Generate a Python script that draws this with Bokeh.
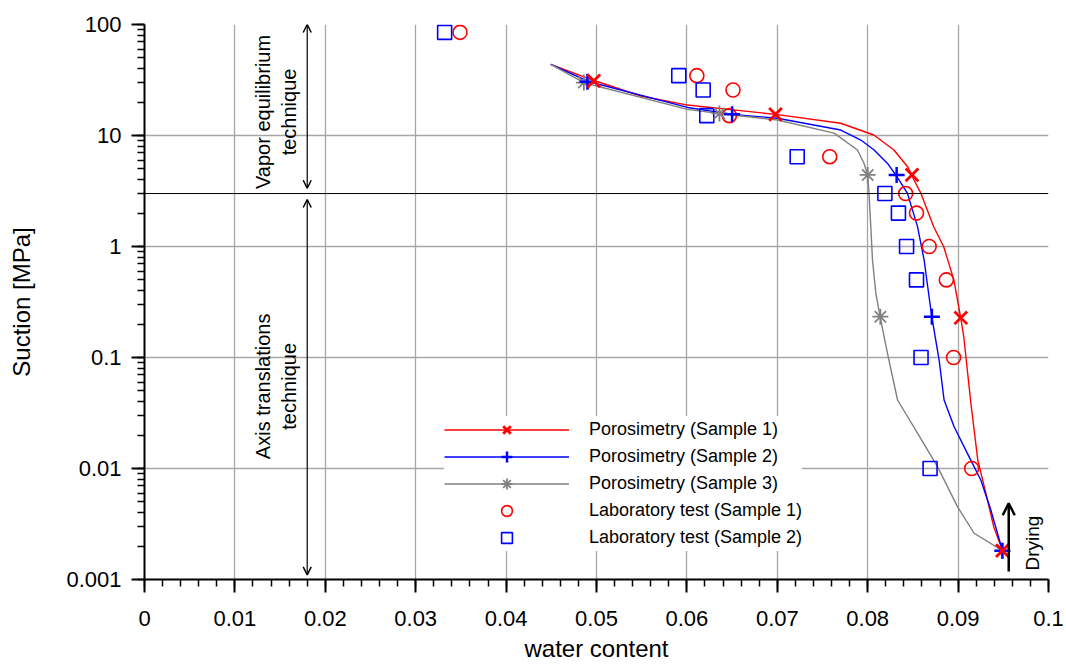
import math
from bokeh.plotting import figure
from bokeh.models import (Range1d, Span, Arrow, OpenHead, Legend, LegendItem,
                          SingleIntervalTicker, LogTicker, CustomJSTickFormatter,
                          ColumnDataSource)
from bokeh.core.properties import value
from bokeh.embed import file_html
from bokeh.resources import INLINE

FONT = "Liberation Sans"

# ---------------- data ----------------
# Porosimetry curves
por1_x = [0.04494, 0.04956, 0.0549, 0.06007, 0.06983, 0.07702, 0.08067, 0.0829, 0.08444, 0.08485,
          0.08587, 0.08731, 0.08842, 0.08953, 0.0903, 0.09063, 0.09141, 0.09218, 0.09307, 0.09395, 0.09491]
por1_y = [43.8, 31.6, 22.7, 18.8, 15.5, 12.9, 10.1, 7.4, 5.2, 4.41,
          3.03, 1.50, 0.99, 0.50, 0.225, 0.153, 0.0389, 0.0119, 0.00601, 0.00297, 0.00182]

por2_x = [0.04494, 0.04918, 0.06007, 0.06504, 0.07002, 0.07702, 0.07924, 0.08071, 0.08219, 0.08311,
          0.0844, 0.08551, 0.08624, 0.08709, 0.0879, 0.08845, 0.08956, 0.09104, 0.09251, 0.09362, 0.09491]
por2_y = [43.8, 30.5, 17.9, 15.5, 14.3, 11.2, 9.1, 7.4, 5.6, 4.41,
          3.01, 1.51, 0.756, 0.233, 0.0949, 0.0414, 0.0238, 0.0136, 0.00787, 0.00423, 0.00182]

por3_x = [0.04494, 0.0486, 0.06007, 0.06356, 0.07002, 0.07628, 0.07887, 0.0796, 0.07998, 0.08015,
          0.08034, 0.08053, 0.0809, 0.08137, 0.08219, 0.0833, 0.08551, 0.08772, 0.08993, 0.09177, 0.09491]
por3_y = [43.8, 29.9, 17.2, 15.8, 13.8, 10.5, 7.4, 5.6, 4.41, 3.0,
          1.51, 0.756, 0.379, 0.233, 0.109, 0.0414, 0.0208, 0.0104, 0.00453, 0.00261, 0.00182]

# Porosimetry markers
mk1_x = [0.0497, 0.0698, 0.0849, 0.0903, 0.0949]
mk1_y = [31.0, 15.5, 4.41, 0.228, 0.00182]
mk2_x = [0.0490, 0.0650, 0.0832, 0.0871, 0.0949]
mk2_y = [30.5, 15.5, 4.41, 0.233, 0.00182]
mk3_x = [0.0486, 0.0636, 0.0800, 0.0814, 0.0949]
mk3_y = [30.0, 15.8, 4.41, 0.233, 0.00182]

# Laboratory tests
lab_y = [85, 34.6, 25.7, 15.1, 6.44, 3.0, 2.0, 1.0, 0.5, 0.1, 0.01]
lab1_x = [0.0349, 0.0611, 0.0651, 0.0647, 0.0758, 0.0842, 0.0854, 0.0868, 0.0887, 0.0895, 0.0915]
lab2_x = [0.0332, 0.0591, 0.0618, 0.0622, 0.0722, 0.0819, 0.0834, 0.0843, 0.0854, 0.0859, 0.0869]

labels = ["Porosimetry (Sample 1)", "Porosimetry (Sample 2)", "Porosimetry (Sample 3)",
          "Laboratory test (Sample 1)", "Laboratory test (Sample 2)"]

technique_boundary = 3.0

# ---------------- figure ----------------
p = figure(width=1066, height=664, x_range=Range1d(0, 0.1), y_range=Range1d(0.001, 100),
           y_axis_type="log", output_backend="svg", toolbar_location=None,
           min_border_left=144, min_border_right=18, min_border_top=24, min_border_bottom=84)
p.outline_line_color = None
p.background_fill_color = "white"

# axes
p.xaxis.ticker = SingleIntervalTicker(interval=0.01, num_minor_ticks=5)
p.yaxis.ticker = LogTicker(num_minor_ticks=10)
p.xaxis.formatter = CustomJSTickFormatter(code="return parseFloat(tick.toFixed(4)).toString();")
p.yaxis.formatter = CustomJSTickFormatter(
    code="return tick >= 1 ? tick.toFixed(0) : parseFloat(tick.toPrecision(2)).toString();")

for ax in (p.xaxis, p.yaxis):
    ax.axis_line_color = "black"
    ax.axis_line_width = 2
    ax.major_tick_line_color = "black"
    ax.major_tick_line_width = 2
    ax.minor_tick_line_color = "black"
    ax.minor_tick_line_width = 1.5
    ax.major_tick_in = 0
    ax.major_tick_out = 13
    ax.minor_tick_in = 0
    ax.minor_tick_out = 7
    ax.major_label_text_font = FONT
    ax.major_label_text_font_size = "22px"
    ax.major_label_text_color = "black"
    ax.axis_label_text_font = FONT
    ax.axis_label_text_font_size = "24px"
    ax.axis_label_text_font_style = "normal"
    ax.axis_label_text_color = "black"

p.xaxis.axis_label = "water content"
p.yaxis.axis_label = "Suction [MPa]"
p.xaxis.major_label_standoff = 18
p.yaxis.major_label_standoff = 10
p.xaxis.axis_label_standoff = 6
p.yaxis.axis_label_standoff = 28

p.xgrid.grid_line_color = "#a6a6a6"
p.ygrid.grid_line_color = "#a6a6a6"
p.xgrid.grid_line_width = 1.3
p.ygrid.grid_line_width = 1.3
p.xgrid.ticker = p.xaxis.ticker
p.ygrid.ticker = p.yaxis.ticker

# technique boundary line
p.add_layout(Span(location=technique_boundary, dimension="width", line_color="black", line_width=1))

# double arrows
for (y0, y1) in [(3.35, 100), (2.65, 0.0011)]:
    mid = (y0 * y1) ** 0.5
    p.add_layout(Arrow(x_start=0.018, y_start=mid, x_end=0.018, y_end=y1,
                       end=OpenHead(size=8, line_width=1.5, line_color="black"),
                       line_width=1.2, line_color="black"))
    p.add_layout(Arrow(x_start=0.018, y_start=mid, x_end=0.018, y_end=y0,
                       end=OpenHead(size=8, line_width=1.5, line_color="black"),
                       line_width=1.2, line_color="black"))

tsrc = ColumnDataSource(dict(x=[0.01458, 0.01458],
                             y=[16.3, 0.055],
                             t=["Vapor equilibrium\ntechnique", "Axis translations\ntechnique"]))
p.text(x="x", y="y", text="t", source=tsrc, angle=math.pi / 2, text_align="center",
       text_baseline="middle", text_font=value(FONT), text_font_size="20px",
       text_line_height=1.2, text_color="black")

# drying arrow
p.add_layout(Arrow(x_start=0.0956, y_start=0.00118, x_end=0.0956, y_end=0.00486,
                   end=OpenHead(size=12, line_width=2.5, line_color="black"),
                   line_width=2.5, line_color="black"))
dsrc = ColumnDataSource(dict(x=[0.0982], y=[0.00213], t=["Drying"]))
p.text(x="x", y="y", text="t", source=dsrc, angle=math.pi / 2, text_align="center",
       text_baseline="middle", text_font=value(FONT), text_font_size="19px", text_color="black")

# curves + markers
red, blue, gray = "#ff0000", "#0000ff", "#808080"
l1 = p.line(por1_x, por1_y, line_color=red, line_width=1.4)
l2 = p.line(por2_x, por2_y, line_color=blue, line_width=1.4)
l3 = p.line(por3_x, por3_y, line_color=gray, line_width=1.4)

s_lab1 = p.scatter(lab1_x, lab_y, marker="circle", size=14, fill_color=None, line_color=red, line_width=1.6)
s_lab2 = p.scatter(lab2_x, lab_y, marker="square", size=14, fill_color=None, line_color=blue, line_width=1.6)

s3 = p.scatter(mk3_x, mk3_y, marker="asterisk", size=16, line_color=gray, line_width=1.8)
s2 = p.scatter(mk2_x, mk2_y, marker="cross", size=16, line_color=blue, line_width=2.5)
s1 = p.scatter(mk1_x, mk1_y, marker="x", size=18, line_color=red, line_width=2.8)

legend = Legend(items=[
    LegendItem(label=labels[0], renderers=[l1, s1]),
    LegendItem(label=labels[1], renderers=[l2, s2]),
    LegendItem(label=labels[2], renderers=[l3, s3]),
    LegendItem(label=labels[3], renderers=[s_lab1]),
    LegendItem(label=labels[4], renderers=[s_lab2]),
], location=(300, 28), glyph_width=125, glyph_height=27, label_height=27, spacing=0,
    padding=5, margin=0, label_standoff=20, label_text_font=FONT, label_text_font_size="18px",
    label_text_color="black", background_fill_color="white", background_fill_alpha=1.0,
    border_line_color=None)
p.add_layout(legend)

open("out.html", "w").write(file_html(p, INLINE))
